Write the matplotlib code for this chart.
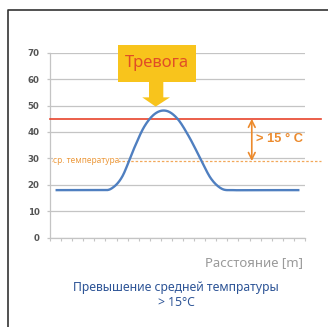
import numpy as np
import matplotlib
matplotlib.use("Agg")
import matplotlib.pyplot as plt
from matplotlib.lines import Line2D
from matplotlib.patches import Rectangle, Polygon

# Temperature profile along the cable (one value per distance step)
temperature = [18, 18, 18, 18, 18, 18.5, 23, 33, 42, 47, 48, 45, 38.5, 30.5, 22.5, 18.5,
               18, 18, 18, 18, 18, 18, 18]
alarm_level = 45
avg_level = 29
y_ticks = [0, 10, 20, 30, 40, 50, 60, 70]

alarm_text = "Тревога"
avg_text = "ср. температура"
diff_text = "> 15 ° C"
x_label = "Расстояние [m]"
caption = "Превышение средней темпратуры\n> 15°C"

BLUE = "#4f7fc0"
RED = "#e8432b"
ORANGE = "#ec8a2c"
YELLOW = "#f8c41c"
GRID = "#c4c4c4"
FONT = ["Noto Sans", "DejaVu Sans"]


def catmull_rom(y, steps=20):
    """Smooth curve through the points, similar to a spreadsheet smoothed line."""
    y = np.asarray(y, float)
    p = np.concatenate([[y[0]], y, [y[-1]]])
    xs, ys = [], []
    for i in range(len(y) - 1):
        p0, p1, p2, p3 = p[i], p[i + 1], p[i + 2], p[i + 3]
        t = np.linspace(0, 1, steps, endpoint=False)
        v = 0.5 * ((2 * p1) + (-p0 + p2) * t + (2 * p0 - 5 * p1 + 4 * p2 - p3) * t ** 2
                   + (-p0 + 3 * p1 - 3 * p2 + p3) * t ** 3)
        xs.append(i + t)
        ys.append(v)
    xs.append([len(y) - 1])
    ys.append([y[-1]])
    return np.concatenate(xs), np.concatenate(ys)


W, H = 328, 327
fig = plt.figure(figsize=(W / 100, H / 100), dpi=100)
fig.patch.set_facecolor("white")

ax = fig.add_axes([50 / W, (H - 237.7) / H, 255 / W, 185 / H])
n = len(temperature)
ax.set_xlim(-0.5, n - 0.5)
ax.set_ylim(0, 70)

for s in ["top", "right"]:
    ax.spines[s].set_visible(False)
for s in ["left", "bottom"]:
    ax.spines[s].set_color(GRID)
    ax.spines[s].set_linewidth(0.9)

ax.set_yticks(y_ticks)
ax.set_yticklabels([str(v) for v in y_ticks], fontsize=6.2, fontweight="bold", color="#555555")
ax.set_xticks(np.arange(-0.5, n, 1.0))
ax.set_xticklabels([])
ax.tick_params(axis="x", direction="out", length=2.5, width=0.8, color=GRID)
ax.tick_params(axis="y", direction="out", length=2.5, width=0.9, color=GRID, pad=5)
ax.yaxis.grid(True, color=GRID, linewidth=0.9)
ax.set_axisbelow(True)

# Alarm threshold and average temperature
ax.plot([-0.5, 23.9], [alarm_level, alarm_level], color=RED, lw=1.2, clip_on=False, zorder=3)
ax.plot([-0.3, 23.9], [avg_level, avg_level], color="#f2a85a", lw=0.9,
        linestyle=(0, (2, 1.5)), clip_on=False, zorder=3)
ax.text(-0.25, avg_level + 0.3, avg_text, fontsize=6, color="#ec9a3e", va="center", ha="left",
        family=FONT, bbox=dict(facecolor="white", edgecolor="none", pad=0.2), zorder=4)

# Temperature curve
sx, sy = catmull_rom(temperature)
ax.plot(sx, sy, color=BLUE, lw=1.7, solid_capstyle="butt", zorder=5)

# Difference arrow
ax.annotate("", xy=(17.7, alarm_level), xytext=(17.7, avg_level),
            arrowprops=dict(arrowstyle="<->", color=ORANGE, lw=1.2, mutation_scale=12,
                            shrinkA=0, shrinkB=0), zorder=6)
ax.text(18.1, (alarm_level + avg_level) / 2 + 0.5, diff_text, fontsize=9.3, fontweight="bold",
        color=ORANGE, va="center", ha="left", family=["Liberation Sans", "DejaVu Sans"], zorder=6)

# Alarm callout pointing at the peak
peak_i = int(np.argmax(temperature)) - 0.97
top = max(temperature) + 1.6
ax.add_patch(Rectangle((5.6, 59.0), 7.04, 13.9, facecolor=YELLOW, edgecolor="none",
                       clip_on=False, zorder=7))
ax.add_patch(Polygon([(peak_i - 0.6, 59.2), (peak_i + 0.69, 59.2), (peak_i + 0.69, top + 3.5),
                      (peak_i + 1.29, top + 3.5), (peak_i, top), (peak_i - 1.21, top + 3.5),
                      (peak_i - 0.6, top + 3.5)],
                     closed=True, facecolor=YELLOW, edgecolor="none", clip_on=False, zorder=7))
ax.text(9.12, 66.0, alarm_text, fontsize=12, color="#e04e26", ha="center", va="center",
        family=FONT, zorder=8)

fig.text(303 / W, 1 - 263 / H, x_label, fontsize=9.5, color="#9a9a9a", ha="right", va="center",
         family=FONT)
fig.text(176 / W, 1 - 295 / H, caption, fontsize=8.8, color="#2e5597", ha="center", va="center",
         linespacing=1.15, family=FONT)

# Outer frame (top and left edges)
fig.add_artist(Line2D([8 / W, 8 / W, 1], [0, 1 - 10 / H, 1 - 10 / H],
                      transform=fig.transFigure, color="#333333", lw=1.2))

fig.savefig("out.png", dpi=100, facecolor="white")
